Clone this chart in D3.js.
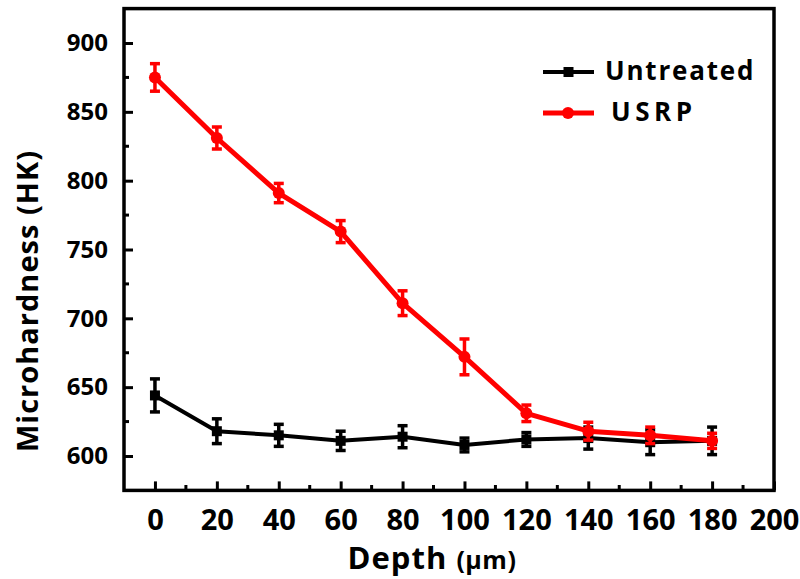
<!DOCTYPE html>
<html><head><meta charset="utf-8">
<script src="https://cdn.jsdelivr.net/npm/d3@7"></script>
<style>
body{margin:0;background:#fff;}
svg text{font-family:"Open Sans",sans-serif;font-weight:bold;fill:#000;}
</style></head>
<body><svg id="c" width="800" height="579"></svg>
<script>
const depths = [0,20,40,60,80,100,120,140,160,180];
const untreated = [644,618,615,611,614,608,612,613,610,611];
const untreatedErr = [12,9,8,7,8,5,5,8,9,10];
const usrp = [875,831,791,763,711,672,631,618,615,611];
const usrpErr = [10,8,7,8,9,13,6,6.5,6,5.5];
const xTicks = [0,20,40,60,80,100,120,140,160,180,200];
const yTicks = [600,650,700,750,800,850,900];
const seriesNames = ["Untreated","USRP"];

const svg = d3.select("#c");
const x = d3.scaleLinear().domain([-10,200]).range([124,774]);
const y = d3.scaleLinear().domain([575,925]).range([490.4,8.6]);

const xMinor = d3.range(10,200,20);
const yMinor = d3.range(625,925,50);

const xAxis = d3.axisBottom(x).tickValues(xTicks).tickSizeInner(-9).tickSizeOuter(0).tickPadding(19).tickFormat(d3.format("d"));
const gx = svg.append("g").attr("transform","translate(0,490.4)").call(xAxis);
gx.selectAll(".tick line").attr("stroke","#000").attr("stroke-width",3);
gx.selectAll("text").style("font-size","29px").attr("dy","0.71em");
gx.select(".domain").remove();
svg.append("g").selectAll("line").data(xMinor).join("line")
  .attr("x1",d=>x(d)).attr("x2",d=>x(d)).attr("y1",490.4).attr("y2",485).attr("stroke","#000").attr("stroke-width",3);

const yAxis = d3.axisLeft(y).tickValues(yTicks).tickSizeInner(-9).tickSizeOuter(0).tickPadding(16);
const gy = svg.append("g").attr("transform","translate(124,0)").call(yAxis);
gy.selectAll(".tick line").attr("stroke","#000").attr("stroke-width",3);
gy.selectAll("text").style("font-size","24px");
gy.select(".domain").remove();
svg.append("g").selectAll("line").data(yMinor).join("line")
  .attr("y1",d=>y(d)).attr("y2",d=>y(d)).attr("x1",124).attr("x2",129).attr("stroke","#000").attr("stroke-width",3);

svg.append("rect").attr("x",124).attr("y",8.6).attr("width",650).attr("height",481.8)
  .attr("fill","none").attr("stroke","#000").attr("stroke-width",3.5);

function drawSeries(vals, errs, color, marker, lw){
  const g = svg.append("g");
  const line = d3.line().x((d,i)=>x(depths[i])).y(d=>y(d));
  g.append("path").datum(vals).attr("d",line).attr("fill","none").attr("stroke",color).attr("stroke-width",lw).attr("stroke-linejoin","round");
  vals.forEach((v,i)=>{
    const cx = x(depths[i]);
    const t = y(v+errs[i]), b = y(v-errs[i]);
    g.append("line").attr("x1",cx).attr("x2",cx).attr("y1",t).attr("y2",b).attr("stroke",color).attr("stroke-width",3.5);
    [t,b].forEach(yy=>g.append("line").attr("x1",cx-5).attr("x2",cx+5).attr("y1",yy).attr("y2",yy).attr("stroke",color).attr("stroke-width",3.5));
    if(marker==="square") g.append("rect").attr("x",cx-5).attr("y",y(v)-5).attr("width",10).attr("height",10).attr("fill",color);
    else g.append("circle").attr("cx",cx).attr("cy",y(v)).attr("r",6).attr("fill",color);
  });
}
drawSeries(untreated, untreatedErr, "#000", "square", 4);
drawSeries(usrp, usrpErr, "#ff0000", "circle", 5);

const lg = svg.append("g");
lg.append("line").attr("x1",543).attr("x2",594).attr("y1",72).attr("y2",72).attr("stroke","#000").attr("stroke-width",4);
lg.append("rect").attr("x",563.5).attr("y",67).attr("width",10).attr("height",10).attr("fill","#000");
lg.append("text").attr("x",605).attr("y",80).style("font-size","26px").style("letter-spacing","1.8px").text(seriesNames[0]);
lg.append("line").attr("x1",543).attr("x2",594).attr("y1",113).attr("y2",113).attr("stroke","#ff0000").attr("stroke-width",5);
lg.append("circle").attr("cx",568).attr("cy",113).attr("r",6).attr("fill","#ff0000");
lg.append("text").attr("x",611).attr("y",121).style("font-size","26px").style("letter-spacing","4.5px").text(seriesNames[1]);

const xt = svg.append("text").attr("x",432).attr("y",569).attr("text-anchor","middle").style("font-size","31px").style("letter-spacing","1px");
xt.append("tspan").text("Depth ");
xt.append("tspan").style("font-size","25px").style("letter-spacing","0.5px").text("(μm)");
svg.append("text").attr("transform","translate(38,301) rotate(-90)").attr("text-anchor","middle")
  .style("font-size","29px").style("letter-spacing","1px").text("Microhardness (HK)");
</script></body></html>
